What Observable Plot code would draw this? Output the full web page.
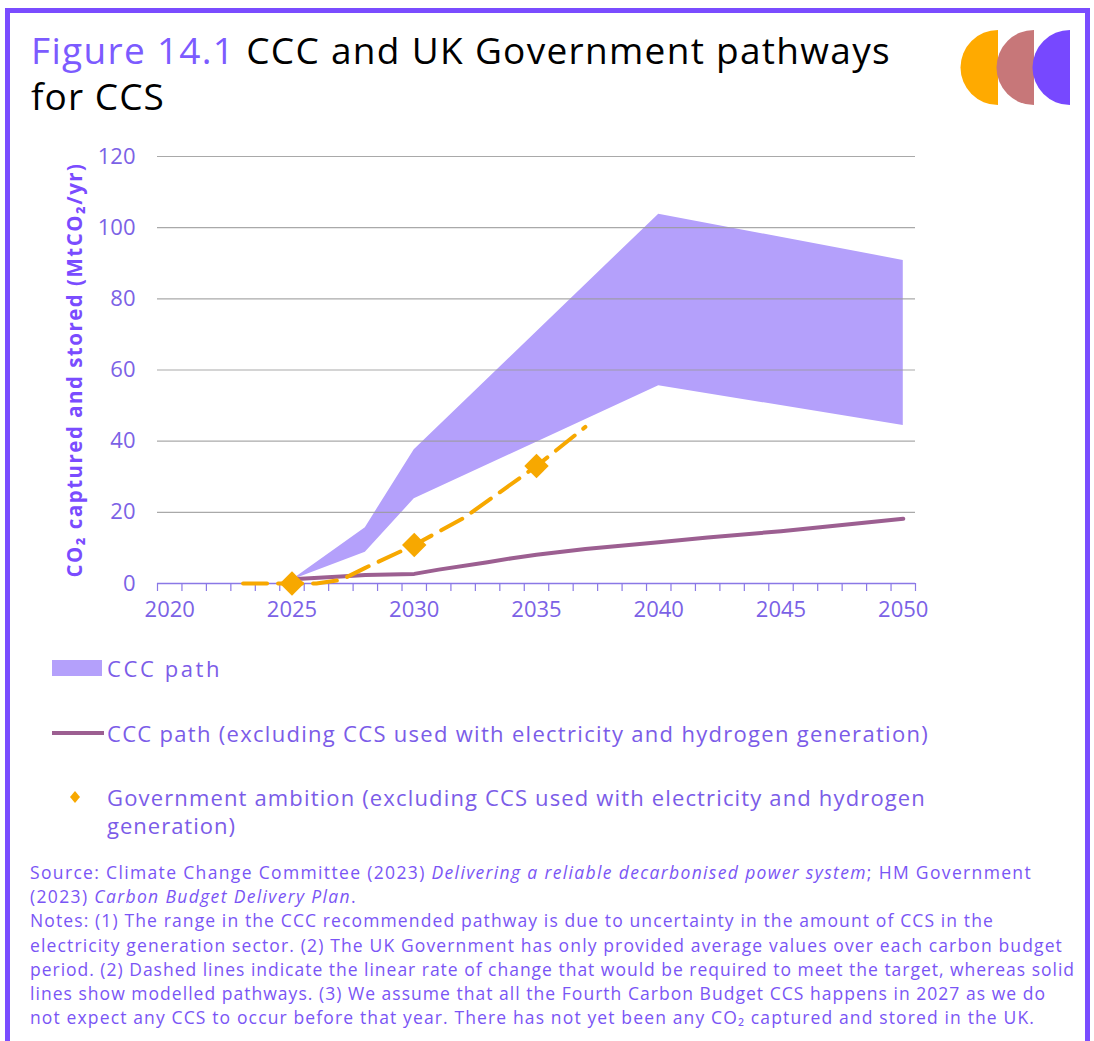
<!DOCTYPE html>
<html>
<head>
<meta charset="utf-8">
<script src="https://cdn.jsdelivr.net/npm/d3@7"></script>
<script src="https://cdn.jsdelivr.net/npm/@observablehq/plot@0.6"></script>
<style>
  body { margin: 0; background: #fff; font-family: "Open Sans", Lato, sans-serif; }
  #page { position: relative; width: 1094px; height: 1041px; overflow: hidden; background: #fff; }
  #frame { position: absolute; left: 5px; top: 8px; width: 1085px; height: 1100px; box-sizing: border-box; border: 5px solid #7a4cff; }
  #title { position: absolute; left: 31px; top: 27px; font-size: 37px; line-height: 46px; color: #000; font-weight: 400; }
  #title .fig { color: #7c5bff; }
  #logo { position: absolute; left: 950px; top: 20px; }
  #chart { position: absolute; left: 0; top: 130px; }
  .leg { position: absolute; color: #7b5ce8; font-size: 22px; line-height: 28px; }
  .sw { position: absolute; }
  #notes { position: absolute; left: 30px; top: 860px; color: #7a55f5; font-size: 17.5px; line-height: 24.2px; }
  .ln { width: max-content; white-space: nowrap; }
</style>
</head>
<body>
<div id="page">
  <div id="frame"></div>
  <div id="title">
    <div class="ln" data-right="891"><span class="fig">Figure 14.1</span> CCC and UK Government pathways</div>
    <div class="ln" data-right="165">for CCS</div>
  </div>
  <svg id="logo" width="130" height="100" viewBox="950 20 130 100"></svg>
  <div id="chart"></div>
  <div class="sw" style="left:52px;top:660px;width:50px;height:16px;background:#b4a0fb;"></div>
  <div class="leg" style="left:107px;top:654px;"><div class="ln" data-right="222">CCC path</div></div>
  <div class="sw" style="left:52px;top:731px;width:52px;height:4px;background:#9c5f91;"></div>
  <div class="leg" style="left:107px;top:719px;"><div class="ln" data-right="929">CCC path (excluding CCS used with electricity and hydrogen generation)</div></div>
  <svg class="sw" style="left:69px;top:790px;" width="12" height="14"><path d="M6,1 L11,7 L6,13 L1,7 Z" fill="#f7a800"></path></svg>
  <div class="leg" style="left:107px;top:783px;">
    <div class="ln" data-right="926">Government ambition (excluding CCS used with electricity and hydrogen</div>
    <div class="ln" data-right="236">generation)</div>
  </div>
  <div id="notes">
    <div class="ln" data-right="1032">Source: Climate Change Committee (2023) <i>Delivering a reliable decarbonised power system</i>; HM Government</div>
    <div class="ln" data-right="357">(2023) <i>Carbon Budget Delivery Plan</i>.</div>
    <div class="ln" data-right="994">Notes: (1) The range in the CCC recommended pathway is due to uncertainty in the amount of CCS in the</div>
    <div class="ln" data-right="1063">electricity generation sector. (2) The UK Government has only provided average values over each carbon budget</div>
    <div class="ln" data-right="1075">period. (2) Dashed lines indicate the linear rate of change that would be required to meet the target, whereas solid</div>
    <div class="ln" data-right="1046">lines show modelled pathways. (3) We assume that all the Fourth Carbon Budget CCS happens in 2027 as we do</div>
    <div class="ln" data-right="1035">not expect any CCS to occur before that year. There has not yet been any CO₂ captured and stored in the UK.</div>
  </div>
</div>
<script>
// ---- Data ----
const bandYears = [2025, 2028, 2030, 2040, 2050];
const bandLow   = [1.0, 8.8, 23.8, 55.6, 44.4];
const bandHigh  = [1.0, 15.7, 37.6, 103.8, 90.8];

const cccYears  = [2025, 2027, 2028, 2030, 2031, 2033, 2034, 2035, 2037, 2040, 2042, 2045, 2047, 2050];
const cccValues = [1.2, 2.0, 2.4, 2.7, 3.9, 6.0, 7.1, 8.1, 9.7, 11.6, 12.9, 14.7, 16.1, 18.2];

const govYears  = [2023, 2026, 2027, 2028, 2030, 2032, 2035, 2037];
const govValues = [0, 0, 1.0, 4.4, 10.8, 18.3, 33.0, 44.0];

const govPointYears  = [2025, 2030, 2035];
const govPointValues = [0, 10.8, 33.0];

const categoryYears = [2020,2021,2022,2023,2024,2025,2026,2027,2028,2029,2030,2031,2032,2033,2034,2035,2036,2037,2038,2039,2040,2041,2042,2043,2044,2045,2046,2047,2048,2049,2050];
const xLabelYears = [2020, 2025, 2030, 2035, 2040, 2045, 2050];
const yTickValues = [0, 20, 40, 60, 80, 100, 120];
const yTitle = "CO₂ captured and stored (MtCO₂/yr)";

// ---- Tables built from the arrays ----
const band = bandYears.map((year, i) => ({year, low: bandLow[i], high: bandHigh[i]}));
const ccc = cccYears.map((year, i) => ({year, value: cccValues[i]}));
const gov = govYears.map((year, i) => ({year, value: govValues[i]}));
const govPts = govPointYears.map((year, i) => ({year, value: govPointValues[i]}));
const boundaries = categoryYears.map(y => y - 0.5).concat([categoryYears[categoryYears.length - 1] + 0.5]);

const axisColor = "#8a78e6";
const labelColor = "#7b62e6";
const font = "'Open Sans', Lato, sans-serif";

const chart = Plot.plot({
  width: 1000,
  height: 510,
  marginLeft: 157,
  marginRight: 85,
  marginTop: 26,
  marginBottom: 57,
  style: {fontFamily: font, background: "transparent", overflow: "visible"},
  x: {domain: [boundaries[0], boundaries[boundaries.length - 1]], label: null},
  y: {domain: [0, 120], label: null},
  marks: [
    Plot.areaY(band, {x: "year", y1: "low", y2: "high", fill: "#b4a0fb", fillOpacity: 1}),
    Plot.gridY(yTickValues.filter(d => d > 0), {stroke: "#9a9a9a", strokeOpacity: 0.85, strokeWidth: 1.2}),
    Plot.ruleY([0], {stroke: axisColor, strokeWidth: 1.6}),
    Plot.axisX(boundaries, {tickSize: 8, tickFormat: () => "", color: axisColor, strokeWidth: 1.2, label: null}),
    Plot.axisX(xLabelYears, {tickSize: 0, tickPadding: 18, fontSize: 22, color: labelColor, tickFormat: d => String(d), label: null}),
    Plot.axisY(yTickValues, {tickSize: 0, tickPadding: 22, fontSize: 22, color: labelColor, label: null}),
    Plot.line(ccc, {x: "year", y: "value", stroke: "#9c5f91", strokeWidth: 4, strokeLinejoin: "round", strokeLinecap: "round"}),
    Plot.line(gov, {x: "year", y: "value", stroke: "#f7a800", strokeWidth: 4, strokeDasharray: "24,11"}),
    Plot.dot(govPts, {x: "year", y: "value", symbol: "diamond2", r: 11, fill: "#f7a800", stroke: null}),
    Plot.text([yTitle], {text: d => d, frameAnchor: "left", textAnchor: "middle", rotate: -90, dx: -82, fontSize: 20.5, fontWeight: "bold", fill: "#7a4cff"})
  ]
});
document.getElementById("chart").appendChild(chart);

// Stretch the rotated y title to the reference length (415 px)
const yt = chart.querySelector('g[aria-label="text"] text');
if (yt) {
  const len = yt.getComputedTextLength();
  const n = yTitle.length;
  yt.style.letterSpacing = ((415 - len) / n) + "px";
}

// Fit each text line to its reference right edge with letter spacing
document.querySelectorAll(".ln").forEach(el => {
  const r = el.getBoundingClientRect();
  const target = +el.dataset.right;
  const n = el.textContent.length;
  if (n > 1) el.style.letterSpacing = ((target - r.right) / n) + "px";
});

// Logo: three half discs
const logo = d3.select("#logo");
const logoColors = ["#ffaa00", "#c77779", "#7748ff"];
const flats = [998, 1034, 1070];
logoColors.forEach((c, i) => {
  const cx = flats[i], cy = 67.5, r = 37.5;
  logo.append("path").attr("d", `M${cx},${cy - r} A${r},${r} 0 0 0 ${cx},${cy + r} Z`).attr("fill", c);
});
</script>
</body>
</html>
